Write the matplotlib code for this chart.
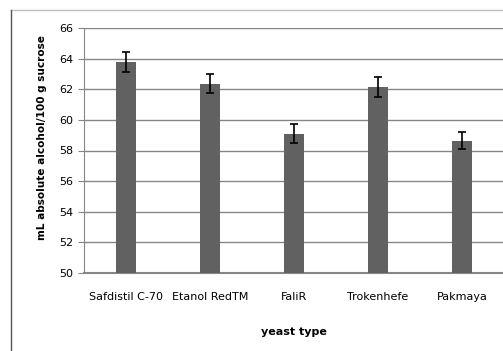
import matplotlib
matplotlib.use("Agg")
import matplotlib.pyplot as plt
from matplotlib.lines import Line2D
import numpy as np

# yeast strains and ethanol yield (mL absolute alcohol / 100 g sucrose)
yeasts = ["Safdistil C-70", "Etanol RedTM", "FaliR", "Trokenhefe", "Pakmaya"]
yield_ml = [63.8, 62.35, 59.1, 62.15, 58.65]
yield_err = [0.65, 0.62, 0.62, 0.65, 0.58]
yticks = [50, 52, 54, 56, 58, 60, 62, 64, 66]

plt.rcParams["font.family"] = ["DejaVu Sans"]

fig = plt.figure(figsize=(5.03, 3.51), dpi=100)
ax = fig.add_axes([84 / 503, 1 - 273 / 351, 420 / 503, 245 / 351])

x = np.arange(len(yeasts))
ax.bar(x, yield_ml, width=0.24, bottom=0, color="#616161", zorder=3)
ax.errorbar(x, yield_ml, yerr=yield_err, fmt="none", ecolor="black",
            elinewidth=1.2, capsize=3, capthick=1.2, zorder=4)

ax.set_xlim(-0.5, len(yeasts) - 0.5)
ax.set_ylim(50, 66)
ax.set_yticks(yticks)
ax.set_xticks(x)
ax.set_xticklabels(yeasts, fontsize=8)
ax.tick_params(axis="x", length=0, pad=14)
ax.tick_params(axis="y", labelsize=8, length=4, color="#868686", pad=4)
ax.yaxis.grid(True, color="#868686", linewidth=1.0, zorder=0)

for side in ["top", "right"]:
    ax.spines[side].set_visible(False)
ax.spines["left"].set_color("#868686")
ax.spines["bottom"].set_color("#868686")
ax.spines["bottom"].set_linewidth(1.5)

ax.set_ylabel("mL absolute alcohol/100 g sucrose", fontsize=7.6, fontweight="bold")
ax.yaxis.set_label_coords(-0.087, 0.555)
ax.set_xlabel("yeast type", fontsize=8, fontweight="bold", labelpad=18)

# chart frame around the plot
fig.add_artist(Line2D([11 / 503, 1.0], [1 - 10 / 351, 1 - 10 / 351],
                      transform=fig.transFigure, color="#c0c0c0", linewidth=1))
fig.add_artist(Line2D([11 / 503, 11 / 503], [0, 1 - 10 / 351],
                      transform=fig.transFigure, color="#555555", linewidth=1))

fig.savefig("out.png", dpi=100)
